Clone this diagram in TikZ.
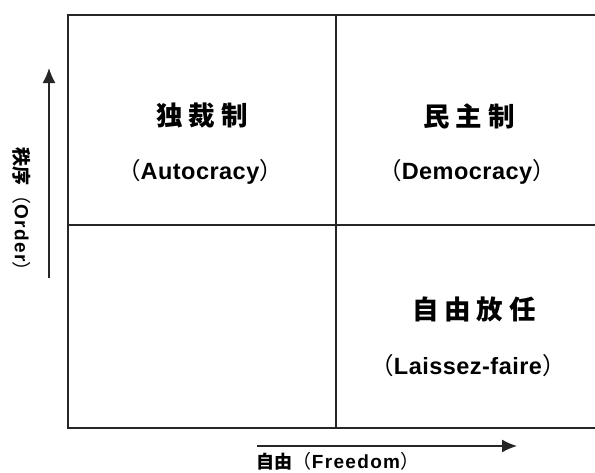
\documentclass[tikz,border=0pt]{standalone}
\usepackage{fontspec}
\usetikzlibrary{arrows.meta}
\newfontfamily\cjk{Noto Sans CJK JP}
\newfontfamily\cjkwide[LetterSpace=22.0]{Noto Sans CJK JP}
\newfontfamily\latin[LetterSpace=2.0]{Liberation Sans}
\newfontfamily\latinwide[LetterSpace=7.0]{Liberation Sans}
\newcommand{\lp}{{\cjk\mdseries （}}
\newcommand{\rp}{{\cjk\mdseries ）}}
\tikzset{
  gridline/.style={line width=1.7pt, black!85},
  axisarrow/.style={line width=1.4pt, black!85, -{Latex[length=15pt,width=13pt]}},
  title/.style={font=\cjkwide\bfseries\fontsize{26.5}{28}\selectfont, inner sep=0pt},
  sub/.style={font=\latin\bfseries\fontsize{23.5}{26}\selectfont, inner sep=0pt},
  axislabel/.style={font=\latinwide\bfseries\fontsize{19}{21}\selectfont, inner sep=0pt}
}
\begin{document}
\begin{tikzpicture}[x=1pt,y=-1pt]
\useasboundingbox (0,0) rectangle (595,472);
% grid
\coordinate (tl) at (68,15);
\coordinate (tr) at (597,15);
\coordinate (bl) at (68,428);
\coordinate (br) at (597,428);
\coordinate (mt) at (336,15);
\coordinate (mb) at (336,428);
\coordinate (ml) at (68,225);
\coordinate (mr) at (597,225);
\draw[gridline] (tr) -- (tl) -- (bl) -- (br);
\draw[gridline] (mt) -- (mb);
\draw[gridline] (ml) -- (mr);
% axes
\coordinate (ya) at (49,278);
\coordinate (yb) at (49,68);
\coordinate (xa) at (257,446);
\coordinate (xb) at (517,446);
\draw[axisarrow] (ya) -- (yb);
\draw[axisarrow] (xa) -- (xb);
\node[axislabel, rotate=-90] (ylab) at (22,214) {{\cjk\bfseries\fontsize{19}{21}\selectfont 秩序}\lp Order\rp};
\node[axislabel] (xlab) at (338,461) {{\cjk\bfseries\fontsize{18}{20}\selectfont 自由}\lp Freedom\rp};
% quadrant labels
\node[title] (auto) at (202,116) {独裁制};
\node[sub] (autoe) at (200,172) {\lp Autocracy\rp};
\node[title] (demo) at (469,116) {民主制};
\node[sub] (demoe) at (467,172) {\lp Democracy\rp};
\node[title] (lais) at (474,309) {自由放任};
\node[sub] (laise) at (468,366) {\lp Laissez-faire\rp};
\end{tikzpicture}
\end{document}
